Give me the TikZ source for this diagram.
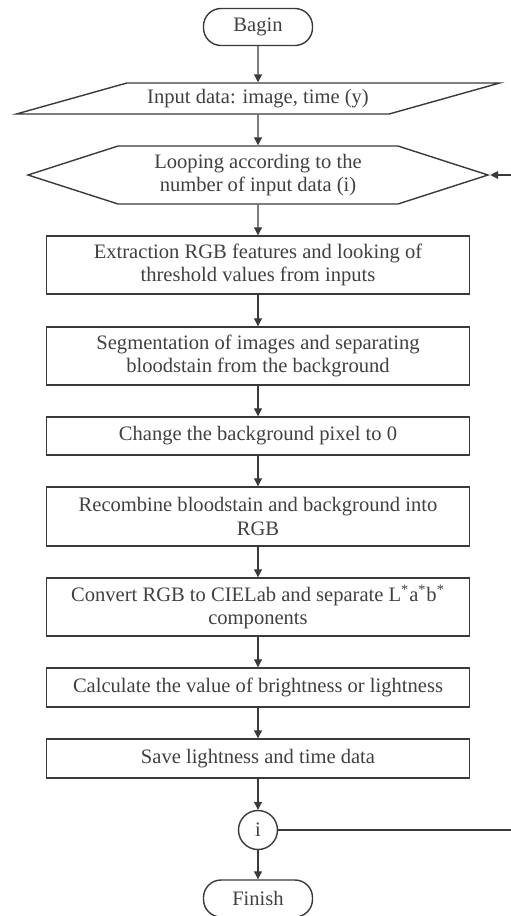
\documentclass[tikz,border=0pt]{standalone}
\usepackage{fontspec}
\setmainfont{Liberation Serif}
\usetikzlibrary{shapes.geometric}
\usetikzlibrary{shapes.symbols}
\usetikzlibrary{arrows.meta}
\definecolor{inkline}{HTML}{3A3A3A}
\definecolor{inktext}{HTML}{404040}
\tikzset{
    termnode/.style = {rectangle, rounded corners=10pt, draw=inkline, line width=0.8pt, minimum width=2.18cm, minimum height=0.74cm, text=inktext},
    ionode/.style = {trapezium, trapezium left angle=17.2, trapezium right angle=162.8, trapezium stretches=true, draw=inkline, line width=0.8pt, minimum width=9.7cm, minimum height=0.62cm, text=inktext},
    loopnode/.style = {signal, signal to=east and west, signal pointer angle=35.7, draw=inkline, line width=0.8pt, minimum width=9.2cm, minimum height=1.16cm, align=center, text=inktext},
    procnode/.style = {rectangle, draw=inkline, line width=0.8pt, minimum width=8.46cm, align=center, text=inktext},
    connnode/.style = {circle, draw=inkline, line width=0.8pt, minimum size=0.78cm, inner sep=0pt, text=inktext},
    edgen/.style = {-{Triangle[length=4.5pt,width=4.5pt]}, line width=0.6pt, draw=inkline}, % flow
    edgel/.style = {line width=0.6pt, draw=inkline} % loop back
}
\begin{document}
\begin{tikzpicture}[font=\fontsize{11.7}{13.2}\selectfont]
  \useasboundingbox (0,0) rectangle (10.22,-18.32);

  \node[termnode] (begin) at (5.16,-0.54) {Bagin};
  \node[ionode] (input) at (5.16,-1.97) {Input data: image, time (y)};
  \node[loopnode] (loop) at (5.16,-3.50) {Looping according to the\\number of input data (i)};
  \node[procnode, minimum height=1.16cm] (extract) at (5.16,-5.30) {Extraction RGB features and looking of\\threshold values from inputs};
  \node[procnode, minimum height=1.16cm] (segment) at (5.16,-7.12) {Segmentation of images and separating\\bloodstain from the background};
  \node[procnode, minimum height=0.76cm] (change) at (5.16,-8.72) {Change the background pixel to 0};
  \node[procnode, minimum height=1.18cm] (recombine) at (5.16,-10.33) {Recombine bloodstain and background into\\RGB};
  \node[procnode, minimum height=1.16cm] (convert) at (5.16,-12.14) {Convert RGB to CIELab and separate L\textsuperscript{*}a\textsuperscript{*}b\textsuperscript{*}\\components};
  \node[procnode, minimum height=0.78cm] (calc) at (5.16,-13.75) {Calculate the value of brightness or lightness};
  \node[procnode, minimum height=0.78cm] (save) at (5.16,-15.17) {Save lightness and time data};
  \node[connnode] (conn) at (5.16,-16.60) {i};
  \node[termnode] (finish) at (5.16,-17.97) {Finish};

  \draw[edgen] (begin) -- (input);
  \draw[edgen] (input) -- (loop);
  \draw[edgen] (loop) -- (extract);
  \draw[edgen] (extract) -- (segment);
  \draw[edgen] (segment) -- (change);
  \draw[edgen] (change) -- (recombine);
  \draw[edgen] (recombine) -- (convert);
  \draw[edgen] (convert) -- (calc);
  \draw[edgen] (calc) -- (save);
  \draw[edgen] (save) -- (conn);
  \draw[edgen] (conn) -- (finish);

  \coordinate (backbot) at (10.27,-16.60);
  \coordinate (backtop) at (10.27,-3.50);
  \draw[edgel] (conn) -- (backbot) -- (backtop);
  \draw[edgen] (backtop) -- (loop.east);
\end{tikzpicture}
\end{document}
